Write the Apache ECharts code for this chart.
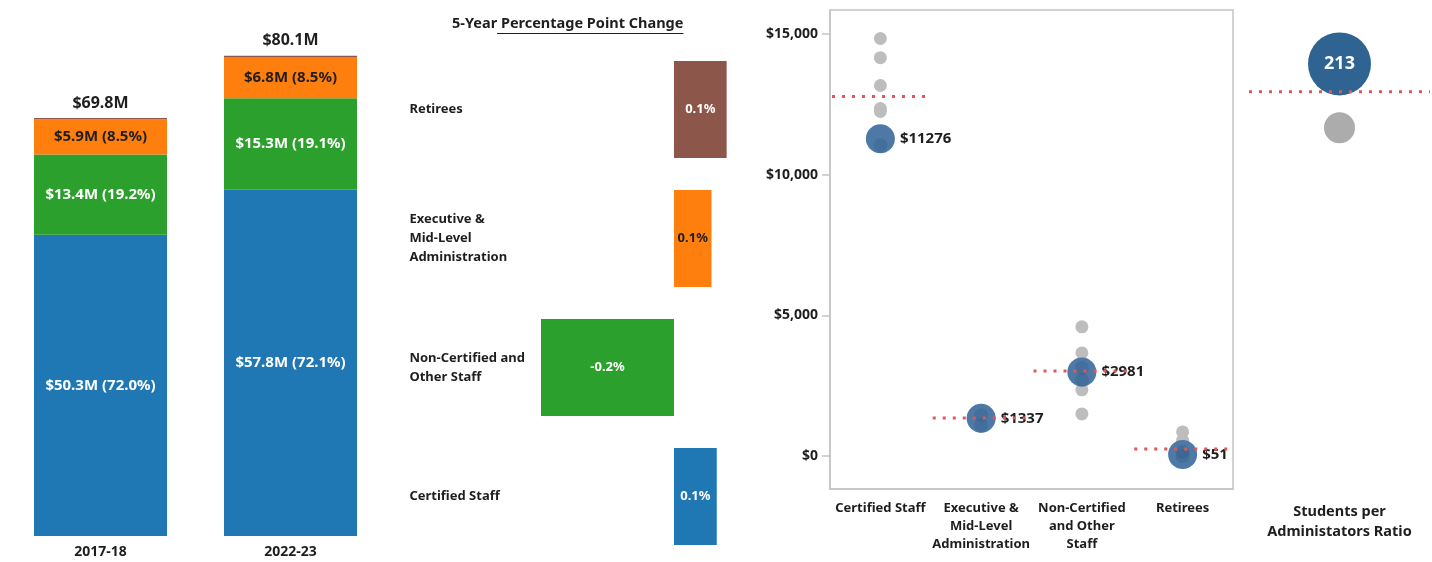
<!DOCTYPE html>
<html>
<head>
<meta charset="utf-8">
<script src="https://cdn.jsdelivr.net/npm/echarts@6/dist/echarts.min.js"></script>
<style>
  html, body { margin: 0; padding: 0; background: #fff; }
  #main { width: 1432px; height: 562px; }
</style>
</head>
<body>
<div id="main"></div>
<script>
// stacked spending by staff group ($M)
const years = ['2017-18', '2022-23'];
const certifiedM = [50.3, 57.8];
const nonCertM = [13.4, 15.3];
const execM = [5.9, 6.8];
const retireeM = [0.2, 0.3];
const certifiedPct = [72.0, 72.1];
const nonCertPct = [19.2, 19.1];
const execPct = [8.5, 8.5];
const totalM = [69.8, 80.1];

// 5-year percentage point change
const changeCats = ['Retirees', 'Executive &\nMid-Level\nAdministration', 'Non-Certified and\nOther Staff', 'Certified Staff'];
const changePts = [0.08, 0.057, -0.202, 0.065];

// per-student spending vs peers
const staffCats = ['Certified Staff', 'Executive &\nMid-Level\nAdministration', 'Non-Certified\nand Other\nStaff', 'Retirees'];
const districtVal = [11276, 1337, 2981, 51];
const peerAvg = [12776, 1352, 3025, 250];
const peerVals = [
  [14840, 14160, 13170, 12350, 12250, 11100],
  [1500, 1250, 1050],
  [4590, 3665, 3300, 2350, 1495],
  [855, 560, 300]
];
const overlapVals = [
  [11050],
  [1450, 1100],
  [3130, 2700],
  [140, 0]
];
const yTicks = [0, 5000, 10000, 15000];

// students per administrator
const ratioCats = ['Students per\nAdministators Ratio'];
const ratioDistrict = [213];
const ratioPeer = [181];
const ratioAvg = [199];

const FONT = '"Noto Sans", "Open Sans", sans-serif';
const INK = '#1e1e1e';
const colors = { certified: '#1f77b4', nonCert: '#2ca02c', exec: '#ff7f0e', retiree: '#8c564b' };
const changeColors = [colors.retiree, colors.exec, colors.nonCert, colors.certified];
const changeLabelColors = ['#fff', INK, '#fff', '#fff'];
const AXIS_GREY = '#c4c4c4';

let chartDom = document.getElementById('main');
let chart = echarts.init(chartDom);
let option;

function segLabel(pcts, color) {
  return {
    show: true,
    position: 'inside',
    color: color,
    fontFamily: FONT,
    fontWeight: 'bold',
    fontSize: 15,
    formatter: p => '$' + p.value.toFixed(1) + 'M (' + pcts[p.dataIndex].toFixed(1) + '%)'
  };
}

function refLine(params, api) {
  const c = api.coord([api.value(0), api.value(1)]);
  const w = api.size([1, 0])[0];
  return {
    type: 'line',
    shape: { x1: c[0] - w / 2 + 2, y1: c[1], x2: c[0] + w / 2 - 3, y2: c[1] },
    style: { stroke: '#e15759', lineWidth: 3, lineDash: [3, 7] }
  };
}

// measure title to place the underline
const titleText = '5-Year Percentage Point Change';
const ctx = document.createElement('canvas').getContext('2d');
ctx.font = 'bold 14.5px ' + FONT;
const wLead = ctx.measureText('5-Year').width;
const wAll = ctx.measureText(titleText).width;
const titleX = 452;

const peerData = [];
peerVals.forEach((arr, i) => arr.forEach(v => peerData.push([i, v])));
const overlapData = [];
overlapVals.forEach((arr, i) => arr.forEach(v => overlapData.push([i, v])));

const boldAxis = { fontFamily: FONT, fontWeight: 'bold', fontSize: 13, color: INK };

option = {
  animation: false,
  backgroundColor: '#fff',
  title: {
    text: titleText,
    left: titleX,
    top: 16,
    padding: 0,
    textStyle: { fontFamily: FONT, fontWeight: 'bold', fontSize: 14.5, color: INK }
  },
  graphic: [
    {
      type: 'line',
      shape: { x1: titleX + wLead, y1: 33.5, x2: titleX + wAll, y2: 33.5 },
      style: { stroke: INK, lineWidth: 1.2 }
    }
  ],
  grid: [
    { left: 5.5, width: 380, top: 9, bottom: 26 },
    { left: 509.4, width: 230.4, top: 45, bottom: 1 },
    { left: 830, right: 199, top: 10, bottom: 73, show: true, borderColor: AXIS_GREY, borderWidth: 1.5 },
    { left: 1249, right: 2, top: 10, bottom: 73 }
  ],
  xAxis: [
    {
      gridIndex: 0, type: 'category', data: years,
      axisLine: { show: false }, axisTick: { show: false },
      axisLabel: Object.assign({ margin: 9 }, boldAxis, { fontSize: 14 })
    },
    {
      gridIndex: 1, type: 'value', min: -0.25, max: 0.1, show: false
    },
    {
      gridIndex: 2, type: 'category', data: staffCats,
      axisLine: { onZero: false, lineStyle: { color: AXIS_GREY, width: 1.5 } },
      axisTick: { length: 8, lineStyle: { color: AXIS_GREY, width: 1.5 } },
      axisLabel: Object.assign({ margin: 10, lineHeight: 18, interval: 0 }, boldAxis)
    },
    {
      gridIndex: 3, type: 'category', data: ratioCats,
      axisLine: { show: false },
      axisTick: { length: 8, lineStyle: { color: AXIS_GREY, width: 1.5 } },
      axisLabel: Object.assign({ margin: 13, lineHeight: 20 }, boldAxis, { fontSize: 14.5 })
    }
  ],
  yAxis: [
    { gridIndex: 0, type: 'value', min: 0, max: 88, show: false },
    {
      gridIndex: 1, type: 'category', data: changeCats, inverse: true,
      axisLine: { show: false, onZero: false }, axisTick: { show: false },
      axisLabel: Object.assign({ align: 'left', margin: 100, lineHeight: 19 }, boldAxis)
    },
    {
      gridIndex: 2, type: 'value', min: -1174, max: 15854,
      splitLine: { show: false },
      axisLine: { show: true, onZero: false, lineStyle: { color: AXIS_GREY, width: 1.5 } },
      axisTick: { show: true, length: 8, customValues: yTicks, lineStyle: { color: AXIS_GREY, width: 1.5 } },
      axisLabel: Object.assign({
        margin: 12,
        customValues: yTicks,
        formatter: v => '$' + v.toLocaleString('en-US')
      }, boldAxis, { fontSize: 14 })
    },
    { gridIndex: 3, type: 'value', min: 0, max: 240, show: false }
  ],
  series: [
    // stacked bars
    {
      type: 'bar', xAxisIndex: 0, yAxisIndex: 0, stack: 'total', barWidth: 133,
      data: certifiedM, itemStyle: { color: colors.certified },
      label: segLabel(certifiedPct, '#fff')
    },
    {
      type: 'bar', xAxisIndex: 0, yAxisIndex: 0, stack: 'total', barWidth: 133,
      data: nonCertM, itemStyle: { color: colors.nonCert },
      label: segLabel(nonCertPct, '#fff')
    },
    {
      type: 'bar', xAxisIndex: 0, yAxisIndex: 0, stack: 'total', barWidth: 133,
      data: execM, itemStyle: { color: colors.exec },
      label: segLabel(execPct, INK)
    },
    {
      type: 'bar', xAxisIndex: 0, yAxisIndex: 0, stack: 'total', barWidth: 133,
      data: retireeM, itemStyle: { color: colors.retiree },
      label: {
        show: true, position: 'top', distance: 7,
        color: INK, fontFamily: FONT, fontWeight: 'bold', fontSize: 16,
        formatter: p => '$' + totalM[p.dataIndex].toFixed(1) + 'M'
      }
    },
    // percentage point change
    {
      type: 'bar', xAxisIndex: 1, yAxisIndex: 1, barWidth: 97,
      data: changePts.map((v, i) => ({
        value: v,
        itemStyle: { color: changeColors[i] },
        label: { color: changeLabelColors[i] }
      })),
      label: {
        show: true, position: 'inside',
        fontFamily: FONT, fontWeight: 'bold', fontSize: 13,
        formatter: p => p.value.toFixed(1) + '%'
      }
    },
    // peers (grey)
    {
      type: 'scatter', xAxisIndex: 2, yAxisIndex: 2, symbolSize: 13,
      itemStyle: { color: '#bdbdbd', opacity: 1 },
      data: peerData, z: 2
    },
    // district
    {
      type: 'scatter', xAxisIndex: 2, yAxisIndex: 2, symbolSize: 29,
      itemStyle: { color: '#4e79a6', opacity: 1 },
      data: districtVal.map((v, i) => [i, v]), z: 3,
      label: {
        show: true, position: 'right', distance: 5,
        color: INK, fontFamily: FONT, fontWeight: 'bold', fontSize: 15,
        formatter: p => '$' + p.value[1]
      }
    },
    {
      type: 'scatter', xAxisIndex: 2, yAxisIndex: 2, symbolSize: 14,
      itemStyle: { color: '#2d5a86', opacity: 0.3 },
      data: overlapData, z: 4
    },
    {
      type: 'custom', xAxisIndex: 2, yAxisIndex: 2, renderItem: refLine,
      data: peerAvg.map((v, i) => [i, v]), z: 5
    },
    // students per administrator
    {
      type: 'scatter', xAxisIndex: 3, yAxisIndex: 3, symbolSize: 31,
      itemStyle: { color: '#acacac', opacity: 1 },
      data: ratioPeer.map((v, i) => [i, v]), z: 2
    },
    {
      type: 'scatter', xAxisIndex: 3, yAxisIndex: 3, symbolSize: 63,
      itemStyle: { color: '#2f6392', opacity: 1 },
      data: ratioDistrict.map((v, i) => [i, v]), z: 3,
      label: {
        show: true, position: 'inside',
        color: '#fff', fontFamily: FONT, fontWeight: 'bold', fontSize: 18,
        formatter: p => String(p.value[1])
      }
    },
    {
      type: 'custom', xAxisIndex: 3, yAxisIndex: 3,
      renderItem: (params, api) => {
        const c = api.coord([api.value(0), api.value(1)]);
        const w = api.size([1, 0])[0];
        return {
          type: 'line',
          shape: { x1: c[0] - w / 2, y1: c[1], x2: c[0] + w / 2, y2: c[1] },
          style: { stroke: '#e15759', lineWidth: 3, lineDash: [3, 7] }
        };
      },
      data: ratioAvg.map((v, i) => [i, v]), z: 5
    }
  ]
};

option && chart.setOption(option);
</script>
</body>
</html>
